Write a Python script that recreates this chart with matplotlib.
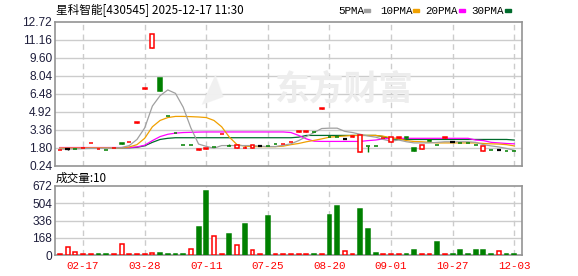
import matplotlib
matplotlib.use('Agg')
import matplotlib.pyplot as plt

W, H = 578, 276

tick_idx = [3, 11, 19, 27, 35, 43, 51, 59]
tick_labels = ['02-17', '03-28', '07-11', '07-25', '08-20', '09-01', '10-27', '12-03']

# candles
opens = [1.58, 1.66, 1.70, 1.74, 2.16, 1.66, 1.62, 1.76, 2.23, 2.24,
         3.97, 6.92, 10.48, 7.80, 4.56, 3.06, 2.05, 2.05, 1.60, 1.68,
         1.88, 2.96, 1.96, 1.72, 1.74, 1.72, 1.90, 1.94, 2.14, 2.10,
         2.24, 3.16, 3.18, 3.15, 5.18, 2.72, 2.72, 2.55, 2.73, 1.45,
         1.96, 1.96, 2.59, 2.30, 2.67, 2.71, 1.80, 1.66, 2.42, 2.05,
         2.67, 2.30, 2.20, 2.20, 2.02, 1.54, 1.62, 1.60, 1.53, 1.53]
closes = [1.62, 1.66, 1.66, 1.78, 2.20, 1.70, 1.58, 1.80, 2.09, 2.28,
          4.01, 6.96, 11.69, 6.68, 4.52, 3.02, 2.01, 2.01, 1.64, 1.72,
          1.84, 3.00, 1.92, 2.00, 1.78, 2.00, 1.90, 1.90, 2.10, 2.14,
          2.28, 3.20, 3.22, 3.11, 5.22, 2.68, 2.68, 2.55, 2.77, 2.89,
          1.92, 1.92, 2.63, 2.70, 2.71, 2.67, 1.54, 2.00, 2.38, 2.01,
          2.71, 2.30, 2.16, 2.16, 1.98, 1.94, 1.58, 1.60, 1.49, 1.49]
highs = [1.62, 1.72, 1.70, 1.78, 2.20, 1.70, 1.62, 1.80, 2.23, 2.28,
         4.01, 6.96, 11.69, 7.80, 4.56, 3.06, 2.05, 2.05, 1.64, 1.72,
         1.88, 3.00, 2.10, 2.00, 1.96, 2.00, 1.90, 1.94, 2.14, 2.14,
         2.28, 3.20, 3.22, 3.15, 5.22, 2.72, 2.72, 2.55, 2.77, 2.89,
         1.96, 1.96, 2.63, 2.70, 2.71, 2.71, 1.80, 2.00, 2.42, 2.05,
         2.71, 2.30, 2.20, 2.20, 2.02, 1.94, 1.62, 1.60, 1.53, 1.53]
lows = [1.58, 1.62, 1.66, 1.74, 2.16, 1.66, 1.58, 1.76, 2.09, 2.24,
        3.97, 6.92, 10.48, 6.68, 4.52, 3.02, 2.01, 2.01, 1.60, 1.68,
        1.84, 2.96, 1.92, 1.72, 1.74, 1.72, 1.90, 1.90, 2.10, 2.10,
        2.24, 3.16, 3.18, 3.11, 5.18, 2.68, 2.68, 2.55, 2.73, 1.45,
        1.45, 1.92, 2.59, 2.30, 2.67, 2.67, 1.54, 1.66, 2.38, 2.01,
        2.67, 2.30, 2.16, 2.16, 1.98, 1.54, 1.58, 1.60, 1.49, 1.49]

# moving averages as drawn
ma5 = [1.66, 1.66, 1.68, 1.70, 1.72, 1.72, 1.74, 1.76, 1.80, 1.97,
       2.50, 3.50, 5.40, 6.30, 6.80, 6.50, 5.30, 3.50, 2.10, 1.90,
       1.74, 1.97, 1.97, 1.97, 1.97, 1.97, 1.92, 1.88, 1.88, 2.00,
       2.12, 2.40, 2.75, 3.10, 3.45, 3.48, 3.48, 3.20, 3.10, 2.95,
       2.80, 2.70, 2.50, 2.35, 2.45, 2.30, 2.20, 2.20, 2.20, 2.25,
       2.30, 2.30, 2.30, 2.30, 2.25, 2.05, 1.94, 1.85, 1.72, 1.56]
ma10 = [1.76, 1.76, 1.76, 1.76, 1.77, 1.77, 1.77, 1.77, 1.78, 1.85,
        2.05, 2.60, 3.60, 4.15, 4.40, 4.50, 4.50, 4.48, 4.45, 4.40,
        4.15, 3.60, 2.70, 2.05, 1.92, 1.88, 1.88, 1.88, 1.88, 1.92,
        2.05, 2.15, 2.30, 2.42, 2.55, 2.70, 2.75, 2.80, 2.85, 2.85,
        2.85, 2.85, 2.78, 2.65, 2.55, 2.40, 2.32, 2.30, 2.25, 2.20,
        2.20, 2.20, 2.20, 2.20, 2.20, 2.15, 2.12, 2.10, 2.05, 1.94]
ma20 = [1.80, 1.80, 1.80, 1.80, 1.80, 1.80, 1.80, 1.80, 1.80, 1.80,
        1.85, 2.00, 2.40, 2.75, 2.95, 3.05, 3.10, 3.12, 3.14, 3.15,
        3.15, 3.15, 3.15, 3.15, 3.15, 3.15, 3.15, 3.15, 3.15, 3.15,
        3.10, 2.85, 2.55, 2.35, 2.33, 2.33, 2.33, 2.33, 2.33, 2.33,
        2.40, 2.45, 2.55, 2.60, 2.60, 2.60, 2.60, 2.60, 2.60, 2.60,
        2.60, 2.60, 2.60, 2.60, 2.45, 2.40, 2.25, 2.20, 2.15, 2.12]
ma30 = [1.78, 1.78, 1.78, 1.78, 1.78, 1.78, 1.78, 1.78, 1.78, 1.78,
        1.82, 1.95, 2.25, 2.50, 2.60, 2.65, 2.65, 2.65, 2.65, 2.65,
        2.65, 2.65, 2.65, 2.65, 2.65, 2.65, 2.65, 2.65, 2.65, 2.65,
        2.65, 2.70, 2.85, 2.85, 2.85, 2.85, 2.85, 2.85, 2.85, 2.85,
        2.85, 2.85, 2.75, 2.55, 2.50, 2.50, 2.50, 2.50, 2.50, 2.50,
        2.50, 2.50, 2.50, 2.50, 2.50, 2.50, 2.50, 2.50, 2.50, 2.45]

# volume
vols = [10, 75, 29, 10, 10, 10, 10, 10, 107, 10,
        10, 10, 20, 20, 10, 10, 10, 55, 272, 620,
        181, 10, 204, 94, 304, 45, 10, 381, 10, 10,
        10, 10, 10, 10, 10, 391, 478, 39, 10, 449,
        252, 20, 10, 10, 10, 10, 48, 10, 10, 126,
        10, 10, 48, 10, 48, 48, 10, 36, 10, 10]
vol_up = [1, 1, 1, 1, 1, 0, 0, 1, 1, 1,
          1, 1, 1, 0, 0, 0, 0, 1, 0, 0,
          1, 1, 0, 1, 0, 1, 1, 0, 1, 1,
          1, 1, 1, 0, 1, 0, 0, 1, 1, 0,
          0, 0, 1, 1, 1, 0, 0, 1, 1, 0,
          1, 0, 0, 0, 0, 0, 0, 1, 0, 0]

price_ticks = [0.24, 1.80, 3.36, 4.92, 6.48, 8.04, 9.60, 11.16, 12.72]
vol_ticks = [0, 168, 336, 504, 672]

RED = '#ff0000'
GREEN = '#008000'
FRAME = '#939393'
GRID = '#cccccc'
LABEL = '#1e1e3c'
MA_COLORS = ['#a0a0a0', '#f0a000', '#ff00ff', '#006b2c']

fig = plt.figure(figsize=(W / 100, H / 100), dpi=100)


def px_axes(x0, y0, x1, y1):
    return fig.add_axes([x0 / W, 1 - y1 / H, (x1 - x0) / W, (y1 - y0) / H])


def style_axes(ax, ticks, labels, ylim):
    ax.set_xlim(-0.65, 60.05)
    ax.set_ylim(*ylim)
    for s in ax.spines.values():
        s.set_color(FRAME)
        s.set_linewidth(1.2)
    ax.set_yticks(ticks)
    ax.set_yticklabels(labels, fontsize=8.6, color=LABEL, family='Liberation Sans')
    ax.tick_params(axis='y', length=0, pad=2)
    ax.tick_params(axis='x', length=0)
    for t in ticks[1:-1]:
        ax.axhline(t, color=GRID, lw=1.0, zorder=0)
    for i in tick_idx:
        ax.axvline(i, color=GRID, lw=1.0, ls=(0, (4, 3)), zorder=0)


# ---- price panel ----
ax = px_axes(55, 21.7, 522.3, 165.5)
style_axes(ax, price_ticks, ['%.2f' % t for t in price_ticks], (0.24, 12.72))
ax.set_xticks([])

# watermark
ax.text(0.62, 0.53, '东方财富', transform=ax.transAxes, ha='center', va='center',
        fontsize=25, fontweight='bold', color='#ededed', family='Noto Sans CJK SC', zorder=0)
ax.text(0.33, 0.53, '◢', transform=ax.transAxes, ha='center', va='center',
        fontsize=22, color='#f0f0f0', family='DejaVu Sans', zorder=0, rotation=20)

x = list(range(len(opens)))
for ma, col in zip([ma30, ma20, ma10, ma5], MA_COLORS[::-1]):
    ax.plot(x, ma, color=col, lw=0.9, zorder=2)

for i in x:
    o, c, h, l = opens[i], closes[i], highs[i], lows[i]
    if c > o:
        col = RED
        ax.vlines(i, l, h, color=col, lw=1.0, zorder=3)
        ax.bar(i, c - o, bottom=o, width=0.5, facecolor='white', edgecolor=col, lw=1.1, zorder=4)
    elif c < o:
        col = GREEN
        ax.vlines(i, l, h, color=col, lw=1.0, zorder=3)
        ax.bar(i, c - o, bottom=o, width=0.5, facecolor=col, edgecolor=col, lw=1.1, zorder=4)
    else:
        ax.vlines(i, l, h, color='black', lw=1.0, zorder=3)
        ax.hlines(o, i - 0.3, i + 0.3, color='black', lw=1.6, zorder=4)

# ---- volume panel ----
vax = px_axes(55, 186, 522.3, 255)
style_axes(vax, vol_ticks, [str(t) for t in vol_ticks], (0, 672))
vax.set_xticks(tick_idx)
vax.set_xticklabels(tick_labels, fontsize=7.8, color=RED, family='Liberation Mono')
vax.tick_params(axis='x', pad=4)

for i in x:
    if vol_up[i]:
        vax.bar(i, vols[i], width=0.5, facecolor='white', edgecolor=RED, lw=1.1, zorder=3)
    else:
        vax.bar(i, vols[i], width=0.5, facecolor=GREEN, edgecolor=GREEN, lw=1.1, zorder=3)

# ---- texts ----
fig.text(56 / W, 1 - 11 / H, '星科智能[430545] 2025-12-17 11:30', fontsize=8.4,
         family=['Noto Sans CJK SC', 'DejaVu Sans'], va='center', ha='left', color='black')
fig.text(56 / W, 1 - 178 / H, '成交量:10', fontsize=8.4,
         family=['Noto Sans CJK SC', 'DejaVu Sans'], va='center', ha='left', color='black')

legend_items = [('5PMA', 338, 364), ('10PMA', 380, 413), ('20PMA', 425, 459), ('30PMA', 471, 505)]
for (name, tx, mx), col in zip(legend_items, MA_COLORS):
    fig.text(tx / W, 1 - 11 / H, name, fontsize=7.8, family='Liberation Mono',
             va='center', ha='left', color='black')
    fig.patches.append(plt.Rectangle((mx / W, 1 - 12 / H), 6 / W, 3 / H,
                                     transform=fig.transFigure, color=col, figure=fig))

fig.savefig('out.png', dpi=100)
